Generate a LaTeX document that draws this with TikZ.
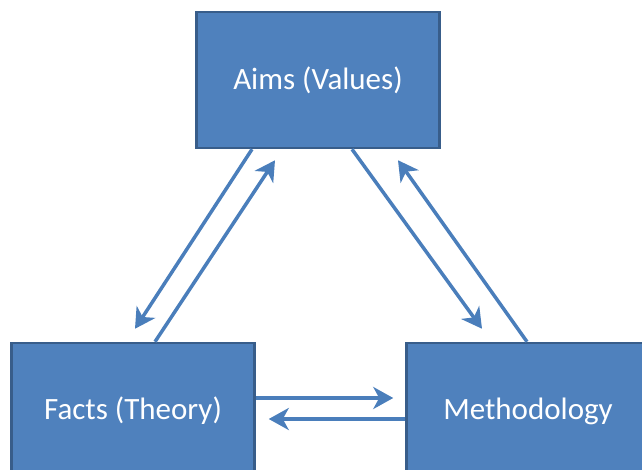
\documentclass[tikz,border=0pt]{standalone}
\usepackage{fontspec}
\setmainfont{Carlito}
\usepackage{tikz}
\usetikzlibrary{arrows.meta, positioning, calc}
\definecolor{boxFill}{HTML}{4F81BD}
\definecolor{boxStroke}{HTML}{385D8A}
\definecolor{arrowStroke}{HTML}{4A7EBB}
\tikzset{
  box/.style={
    rectangle,
    minimum width=243pt, minimum height=136pt,
    inner sep=0pt,
    draw=boxStroke, fill=boxFill, line width=2.5pt,
    text=white,
    font=\fontsize{31}{37}\selectfont
  },
  arr/.style={
    -{Stealth[length=20pt, width=22pt, inset=6pt]},
    draw=arrowStroke, line width=3.5pt
  },
}
\begin{document}
\begin{tikzpicture}[x=1pt, y=-1pt]
    \useasboundingbox (0,0) rectangle (642,470);
    \clip (0,0) rectangle (642,470);

    \node[box] (aims) at (318,80) {Aims (Values)};
    \node[box] (facts) at (133,411) {Facts (Theory)};
    \node[box] (method) at (528,411) {Methodology};

    % aims <-> facts
    \draw[arr] ([xshift=-66pt]aims.south) -- ([xshift=2pt, yshift=13pt]facts.north);
    \draw[arr] ([xshift=22pt]facts.north) -- ([xshift=-43pt, yshift=-11pt]aims.south);

    % aims <-> methodology
    \draw[arr] ([xshift=34pt]aims.south) -- ([xshift=-46pt, yshift=13pt]method.north);
    \draw[arr] ([xshift=-1pt]method.north) -- ([xshift=80pt, yshift=-11pt]aims.south);

    % facts <-> methodology
    \draw[arr] ([yshift=13pt]facts.east) -- ([xshift=-12pt, yshift=13pt]method.west);
    \draw[arr] ([yshift=-8pt]method.west) -- ([xshift=13pt, yshift=-8pt]facts.east);
\end{tikzpicture}
\end{document}
